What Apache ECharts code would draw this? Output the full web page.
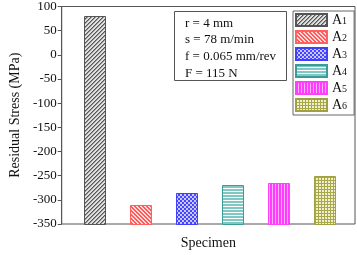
<!DOCTYPE html>
<html><head><meta charset="utf-8">
<script src="https://cdn.jsdelivr.net/npm/echarts@6/dist/echarts.min.js"></script>
<style>html,body{margin:0;padding:0;background:#fff}#c{width:357px;height:255px}</style>
</head><body><div id="c"></div>
<script>
var specimens = ['A1','A2','A3','A4','A5','A6'];
var stress = [80, -310, -285, -270, -265, -250];
var yTicks = {min: -350, max: 100, interval: 50};
var params = ['r = 4 mm','s = 78 m/min','f = 0.065 mm/rev','F = 115 N'];

function pat(w, h, bg, draw) {
  var c = document.createElement('canvas'); c.width = w; c.height = h;
  var g = c.getContext('2d'); g.fillStyle = bg; g.fillRect(0,0,w,h); draw(g);
  return {image: c, repeat: 'repeat'};
}
var fills = [
  pat(4,4,'#e0e0e0',function(g){g.fillStyle='#555';for(var i=0;i<4;i++){g.fillRect(i,3-i,1,1);}g.fillStyle='#999';for(var i=0;i<4;i++){g.fillRect((i+1)%4,3-i,1,1);}}),
  pat(4,4,'#ffd8d8',function(g){g.fillStyle='#ff5a5a';for(var i=0;i<4;i++){g.fillRect(i,i,1,1);g.fillRect((i+1)%4,i,1,1);}}),
  pat(4,4,'#c8c8ff',function(g){g.fillStyle='#4646ff';g.fillRect(0,0,2,2);g.fillRect(2,2,2,2);}),
  pat(1,3,'#ffffff',function(g){g.fillStyle='#7fc8c4';g.fillRect(0,0,1,2);}),
  pat(3,1,'#ffb0ff',function(g){g.fillStyle='#ff3cff';g.fillRect(0,0,2,1);}),
  pat(3,3,'#f0f0d0',function(g){g.fillStyle='#a8a848';g.fillRect(0,0,3,1);g.fillRect(0,0,1,3);})
];
var borders = ['#555555','#ff6060','#4040ff','#3a9c98','#ff40ff','#a0a040'];
var BAR_W = 21;

function renderBar(params, api) {
  var top = api.coord([api.value(0), api.value(1)]);
  var bot = api.coord([api.value(0), yTicks.min]);
  return {type:'rect',
    shape:{x: Math.round(top[0] - BAR_W/2) + 0.5, y: Math.round(top[1]) + 0.5, width: BAR_W, height: Math.round(bot[1]) - Math.round(top[1])},
    style: api.style()};
}

var series = specimens.map(function(n,i){
  return {name:n, type:'custom', renderItem:renderBar,
    itemStyle:{color:fills[i], borderColor:borders[i], borderWidth:1},
    encode:{x:0, y:1},
    data:[[i+1, stress[i]]]};
});

var chart = echarts.init(document.getElementById('c'), null, {renderer:'canvas'});
chart.setOption({
  animation:false,
  grid:{left:53, right:2, top:6, bottom:25.5, show:true, borderColor:'#555', borderWidth:1},
  xAxis:{type:'value', min:0.293, max:6.664, axisLine:{show:false}, axisTick:{show:false},
    axisLabel:{show:false}, splitLine:{show:false},
    name:'Specimen', nameLocation:'middle', nameGap:12,
    nameTextStyle:{fontFamily:'Liberation Serif', fontSize:14, color:'#111'}},
  yAxis:{type:'value', min:yTicks.min, max:yTicks.max, interval:yTicks.interval,
    axisLine:{show:true, lineStyle:{color:'#555'}}, axisTick:{show:true, length:4, lineStyle:{color:'#555'}},
    splitLine:{show:false},
    axisLabel:{fontFamily:'Liberation Serif', fontSize:13, color:'#111', margin:5},
    name:'Residual Stress (MPa)', nameLocation:'middle', nameGap:37,
    nameTextStyle:{fontFamily:'Liberation Serif', fontSize:14, color:'#111'}},
  legend:{orient:'vertical', left:293, top:11, itemWidth:31, itemHeight:12, itemGap:3,
    icon:'rect',
    padding:[2,7,3,2], borderColor:'#666', borderWidth:1,
    data:specimens,
    formatter:function(n){return '{a|A}{s|'+n.slice(1)+'}';},
    textStyle:{rich:{a:{fontFamily:'Liberation Serif', fontSize:14, color:'#111'},
      s:{fontFamily:'Liberation Serif', fontSize:10, color:'#111', padding:[3,0,0,0]}}}},
  graphic:[
    {type:'rect', shape:{x:174.5, y:11.5, width:112, height:69}, style:{fill:'#fff', stroke:'#555', lineWidth:1}},
    {type:'text', left:185, top:15, style:{text:params.join('\n'), font:'13px "Liberation Serif"', lineHeight:16.6, fill:'#111'}}
  ],
  series:series
});
</script></body></html>
